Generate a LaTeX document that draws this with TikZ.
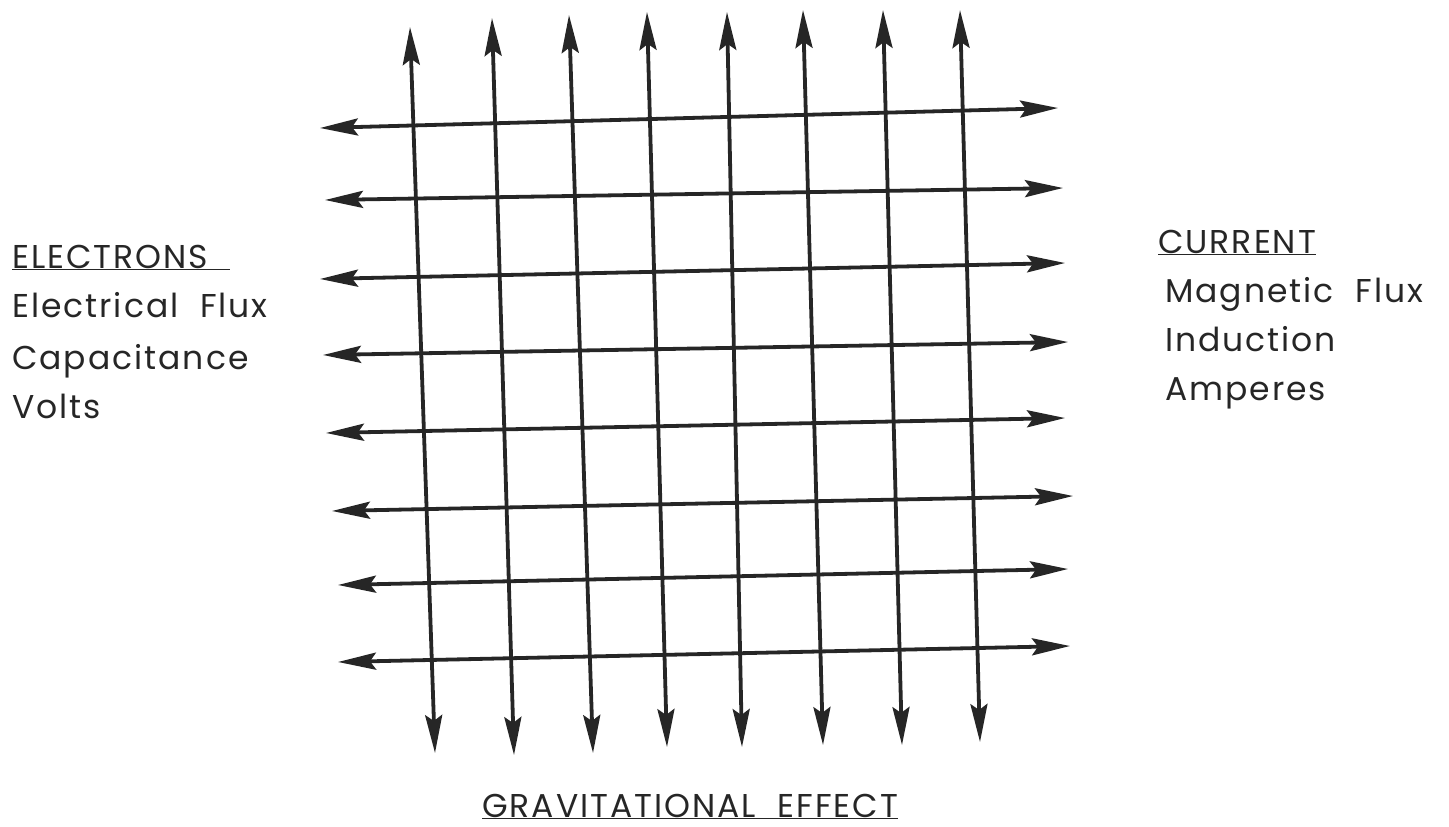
\documentclass[tikz,border=0pt]{standalone}
\usepackage{fontspec}
\setmainfont{Poppins}[LetterSpace=6, WordSpace=2]
\usetikzlibrary{arrows.meta}

\tikzset{
  flux/.style={line width=3.8pt, draw=black!85,
    {Stealth[length=38pt,width=17pt,inset=6pt]}-{Stealth[length=38pt,width=17pt,inset=6pt]}},
  lbl/.style={anchor=base west, inner sep=0pt, text=black!85,
    font=\fontsize{33}{40}\selectfont}
}

\begin{document}
\begin{tikzpicture}[x=1pt, y=-1pt]
  \useasboundingbox (0,0) rectangle (1449,827);

  % End points of the vertical lines (top, bottom)
  \foreach \n/\xt/\yt/\xb/\yb in {1/410/27/435/753, 2/492/18/514/755,
      3/569/15/593/753, 4/647/12/667/747, 5/727/12/742/747,
      6/803/10/823/745, 7/883/10/902/745, 8/960/10/980/742} {
    \coordinate (vt\n) at (\xt,\yt);
    \coordinate (vb\n) at (\xb,\yb);
  }

  % End points of the horizontal lines (left, right)
  \foreach \n/\xl/\yl/\xr/\yr in {1/320/128/1058/108, 2/325/200/1063/188,
      3/320/279/1065/263, 4/323/355/1068/342, 5/326/433/1065/418,
      6/332/511/1073/496, 7/338/585/1068/569, 8/338/662/1070/646} {
    \coordinate (hl\n) at (\xl,\yl);
    \coordinate (hr\n) at (\xr,\yr);
  }

  % Grid of arrows
  \foreach \n in {1,...,8} {
    \draw[flux] (vt\n) -- (vb\n);
    \draw[flux] (hl\n) -- (hr\n);
  }

  % Left labels
  \node[lbl] (electrons) at (12,268) {\underline{ELECTRONS\ }};
  \node[lbl] (elflux) at (12,317) {Electrical Flux};
  \node[lbl] (capac) at (12,369) {Capacitance};
  \node[lbl] (volts) at (12,418) {Volts};

  % Right labels
  \node[lbl] (current) at (1158,253) {\underline{CURRENT}};
  \node[lbl] (magflux) at (1165,302) {Magnetic Flux};
  \node[lbl] (induct) at (1165,351) {Induction};
  \node[lbl] (amps) at (1165,400) {Amperes};

  % Bottom label
  \node[lbl] (grav) at (482,817) {\underline{GRAVITATIONAL EFFECT}};
\end{tikzpicture}
\end{document}
